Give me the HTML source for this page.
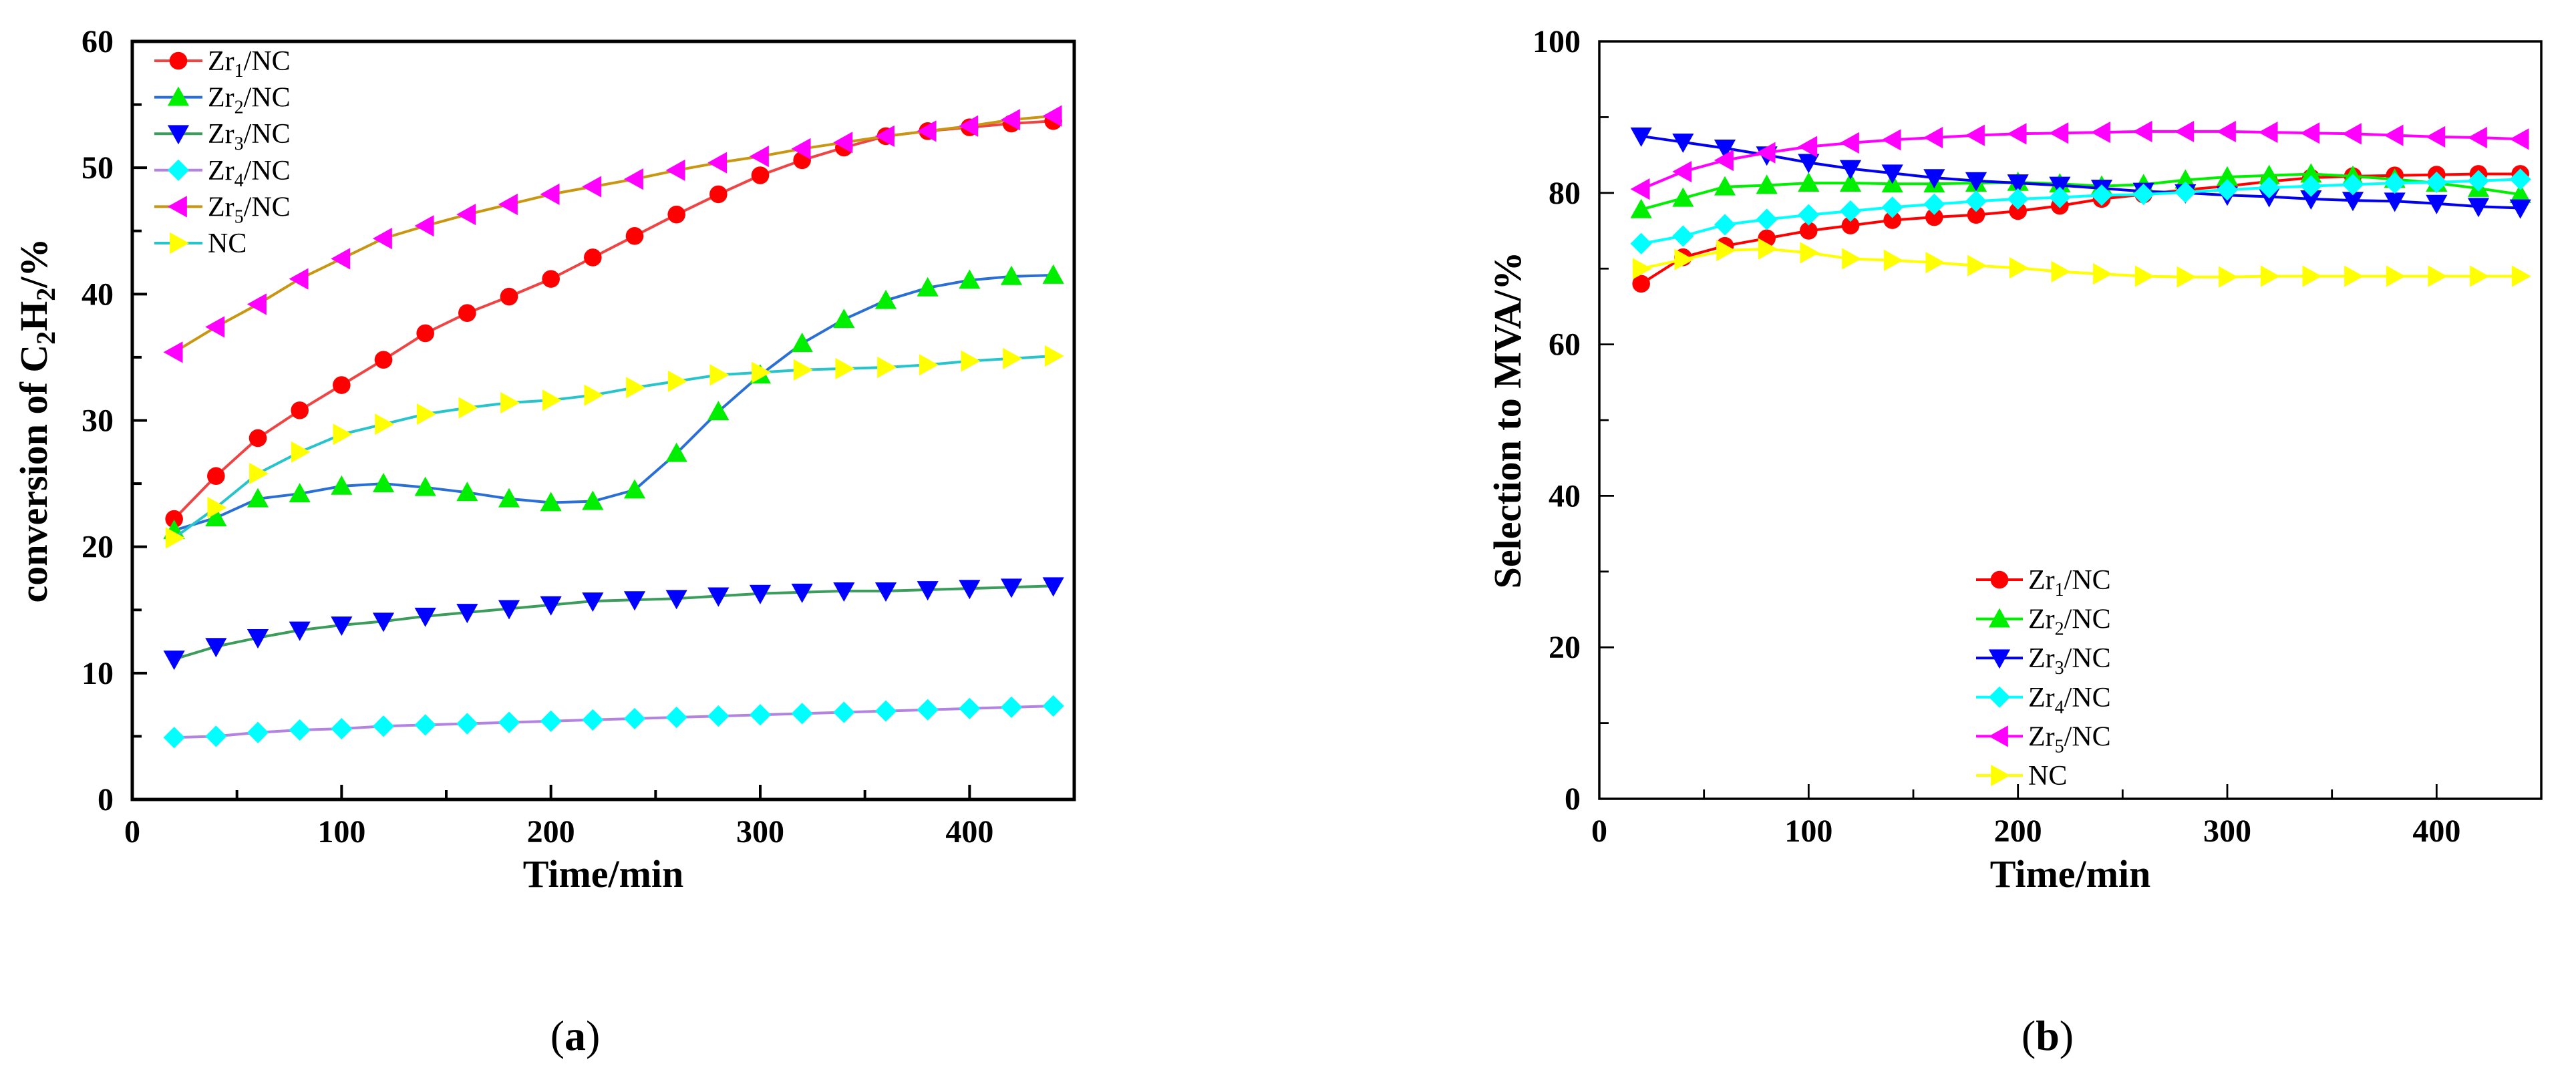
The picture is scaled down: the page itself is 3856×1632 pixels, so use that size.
<!DOCTYPE html>
<html><head><meta charset="utf-8"><style>
html,body{margin:0;padding:0;background:#fff;}
svg{display:block;font-family:"Liberation Serif",serif;}
</style></head><body>
<svg id="fig" width="3856" height="1632" viewBox="0 0 3856 1632" xmlns="http://www.w3.org/2000/svg">
<g id="chartA"></g>
<g id="chartB"></g>
<text x="861" y="1572" font-size="64" text-anchor="middle">(<tspan font-weight="bold">a</tspan>)</text>
<text x="3065" y="1572" font-size="64" text-anchor="middle">(<tspan font-weight="bold">b</tspan>)</text>
</svg>
<script>
const times = [20,40,60,80,100,120,140,160,180,200,220,240,260,280,300,320,340,360,380,400,420,440];
const seriesNames = ["Zr1/NC","Zr2/NC","Zr3/NC","Zr4/NC","Zr5/NC","NC"];
const convZr1 = [22.2,25.6,28.6,30.8,32.8,34.8,36.9,38.5,39.8,41.2,42.9,44.6,46.3,47.9,49.4,50.6,51.6,52.5,52.9,53.2,53.5,53.7];
const convZr2 = [21.3,22.3,23.8,24.2,24.8,25.0,24.7,24.3,23.8,23.5,23.6,24.5,27.4,30.7,33.6,36.1,38.0,39.5,40.5,41.1,41.4,41.5];
const convZr3 = [11.1,12.1,12.8,13.4,13.8,14.1,14.5,14.8,15.1,15.4,15.7,15.8,15.9,16.1,16.3,16.4,16.5,16.5,16.6,16.7,16.8,16.9];
const convZr4 = [4.9,5.0,5.3,5.5,5.6,5.8,5.9,6.0,6.1,6.2,6.3,6.4,6.5,6.6,6.7,6.8,6.9,7.0,7.1,7.2,7.3,7.4];
const convZr5 = [35.4,37.4,39.2,41.2,42.8,44.4,45.4,46.3,47.1,47.9,48.5,49.1,49.8,50.4,50.9,51.5,52.0,52.5,52.9,53.3,53.8,54.1];
const convNC = [20.7,23.1,25.8,27.5,28.9,29.7,30.5,31.0,31.4,31.6,32.0,32.6,33.1,33.6,33.8,34.0,34.1,34.2,34.4,34.7,34.9,35.1];
const selZr1 = [68,71.5,73,74,75,75.7,76.4,76.8,77.1,77.6,78.3,79.2,79.8,80.4,80.9,81.5,82,82.2,82.3,82.4,82.5,82.5];
const selZr2 = [77.8,79.3,80.8,81.0,81.3,81.3,81.2,81.2,81.3,81.4,81.2,80.9,81.1,81.7,82.1,82.3,82.5,82.2,81.8,81.3,80.6,79.8];
const selZr3 = [87.5,86.7,85.9,85.0,84.0,83.2,82.6,82.0,81.6,81.3,81.0,80.6,80.2,80.0,79.7,79.5,79.2,79.0,78.9,78.6,78.2,78.0];
const selZr4 = [73.3,74.3,75.8,76.5,77.1,77.6,78.1,78.5,78.9,79.2,79.4,79.7,79.8,80.1,80.4,80.7,80.9,81.1,81.3,81.4,81.6,81.8];
const selZr5 = [80.5,82.8,84.3,85.3,86.1,86.6,87.0,87.3,87.6,87.8,87.9,88.0,88.1,88.1,88.1,88.0,87.9,87.8,87.6,87.4,87.3,87.1];
const selNC = [70,71.2,72.4,72.6,72.1,71.3,71.1,70.8,70.4,70.1,69.6,69.3,69.0,68.9,68.9,69.0,69.0,69.0,69.0,69.0,69.0,69.0];
const xTicks = [0,100,200,300,400];
const yTicksA = [0,10,20,30,40,50,60];
const yTicksB = [0,20,40,60,80,100];

const NS="http://www.w3.org/2000/svg";
function mk(parent,tag,attrs){const e=document.createElementNS(NS,tag);for(const k in attrs)e.setAttribute(k,attrs[k]);parent.appendChild(e);return e;}
const markerShapes=["circle","up","down","diamond","left","right"];
const markerFill=["#ff0000","#00ee00","#0000ff","#00ffff","#ff00ff","#ffff00"];

function marker(g,shape,cx,cy,r,fill){
  let e;
  if(shape==="circle"){e=mk(g,"circle",{cx:cx,cy:cy,r:r*0.95,fill:fill});}
  else{
    let p;
    const s=r*1.15;
    if(shape==="up")p=[[cx,cy-s],[cx+s,cy+s*0.8],[cx-s,cy+s*0.8]];
    else if(shape==="down")p=[[cx,cy+s],[cx+s,cy-s*0.8],[cx-s,cy-s*0.8]];
    else if(shape==="left")p=[[cx-s,cy],[cx+s*0.8,cy-s],[cx+s*0.8,cy+s]];
    else if(shape==="right")p=[[cx+s,cy],[cx-s*0.8,cy-s],[cx-s*0.8,cy+s]];
    else p=[[cx,cy-s],[cx+s,cy],[cx,cy+s],[cx-s,cy]];
    e=mk(g,"polygon",{points:p.map(q=>q.join(",")).join(" "),fill:fill});
  }
  return e;
}

function drawChart(root,cfg){
  const {x0,x1,y0,y1,xmax,ymax,data,lineColors,yTicks,yMinor,yTitle,axisW,legX,legY,legDy,mr,lw}=cfg;
  const sx=v=>x0+(x1-x0)*v/xmax;
  const sy=v=>y0-(y0-y1)*v/ymax;
  data.forEach((arr,i)=>{
    const g=mk(root,"g",{});
    
    
    const d=arr.map((v,j)=>(j?"L":"M")+sx(times[j]).toFixed(1)+","+sy(v).toFixed(1)).join(" ");
    const path=mk(g,"path",{d:d,fill:"none",stroke:lineColors[i],"stroke-width":lw,"stroke-linejoin":"round"});
    
    
    arr.forEach((v,j)=>{
      const m=marker(g,markerShapes[i],sx(times[j]),sy(v),mr,markerFill[i]);
      
      
    });
  });
  const fr=mk(root,"rect",{x:x0,y:y1,width:x1-x0,height:y0-y1,fill:"none",stroke:"#000","stroke-width":axisW});
  
  
  for(let v=0;v<=xmax;v+=50){
    const X=sx(v);const major=v%100===0;
    mk(root,"line",{x1:X,x2:X,y1:y0,y2:y0-(major?22:14),stroke:"#000","stroke-width":axisW*0.8});
  }
  xTicks.forEach(v=>{
    const t=mk(root,"text",{x:sx(v),y:y0+64,"font-size":48,"font-weight":"bold","text-anchor":"middle"});
    t.textContent=v;
    
    
  });
  for(let v=0;v<=ymax;v+=yMinor){
    const Y=sy(v);const major=yTicks.includes(v);
    mk(root,"line",{x1:x0,x2:x0+(major?22:14),y1:Y,y2:Y,stroke:"#000","stroke-width":axisW*0.8});
  }
  yTicks.forEach(v=>{
    const t=mk(root,"text",{x:x0-28,y:sy(v)+16,"font-size":48,"font-weight":"bold","text-anchor":"end"});
    t.textContent=v;
    
    
  });
  const xt=mk(root,"text",{x:(x0+x1)/2,y:1328,"font-size":58,"font-weight":"bold","text-anchor":"middle"});
  xt.textContent="Time/min";
  
  
  const yt=mk(root,"text",{x:0,y:0,"font-size":58,"font-weight":"bold","text-anchor":"middle",transform:`translate(${cfg.yTitleX},${(y0+y1)/2}) rotate(-90)`});
  yt.innerHTML=yTitle;
  
  
  seriesNames.forEach((n,i)=>{
    const g=mk(root,"g",{});
    
    
    const y=legY+i*legDy;
    mk(g,"line",{x1:legX,x2:legX+cfg.legLen,y1:y,y2:y,stroke:lineColors[i],"stroke-width":lw});
    marker(g,markerShapes[i],legX+cfg.legLen/2,y,mr,markerFill[i]);
    const t=mk(g,"text",{x:legX+cfg.legLen+8,y:y+14,"font-size":42});
    if(n==="NC")t.textContent="NC";
    else t.innerHTML='Zr<tspan font-size="28" dy="10">'+n[2]+'</tspan><tspan dy="-10">/NC</tspan>';
  });
}

drawChart(document.getElementById("chartA"),{
  x0:198,x1:1608,y0:1197,y1:62,xmax:450,ymax:60,
  data:[convZr1,convZr2,convZr3,convZr4,convZr5,convNC],
  lineColors:["#ee4444","#2a6fd6","#3c9c5c","#b283e0","#c99612","#28c4cc"],
  yTicks:yTicksA,yMinor:5,axisW:5,mr:14,lw:4,
  yTitle:'conversion of C<tspan font-size="40" dy="12">2</tspan><tspan dy="-12">H</tspan><tspan font-size="40" dy="12">2</tspan><tspan dy="-12">/%</tspan>',
  yTitleX:70,legX:231,legY:91,legDy:54.6,legLen:72
});
drawChart(document.getElementById("chartB"),{
  x0:2394,x1:3804,y0:1196,y1:62,xmax:450,ymax:100,
  data:[selZr1,selZr2,selZr3,selZr4,selZr5,selNC],
  lineColors:["#ff0000","#00ee00","#0000ee","#00ffff","#ff00ff","#ffff00"],
  yTicks:yTicksB,yMinor:10,axisW:3.5,mr:14,lw:4,
  yTitle:'Selection to MVA/%',
  yTitleX:2276,legX:2958,legY:868,legDy:58.6,legLen:70
});
</script>
</body></html>
